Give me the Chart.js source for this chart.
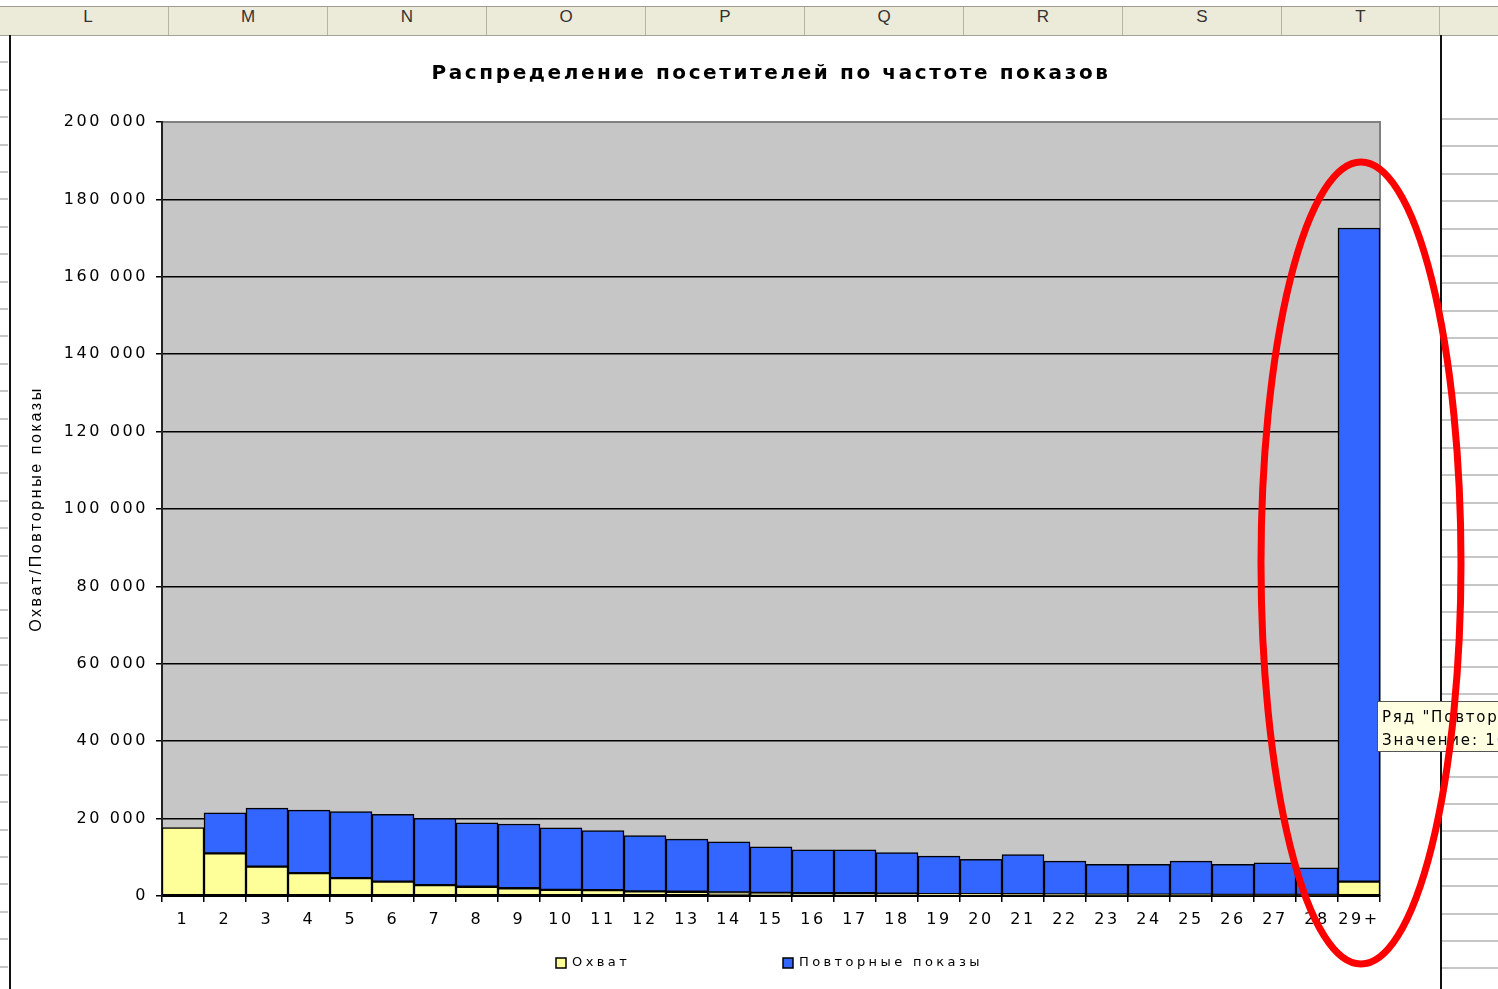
<!DOCTYPE html>
<html lang="ru">
<head>
<meta charset="utf-8">
<title>Распределение посетителей по частоте показов</title>
<script src="https://cdn.jsdelivr.net/npm/chart.js@4.4.1/dist/chart.umd.min.js"></script>
<style>
  body { margin: 0; width: 1498px; height: 989px; overflow: hidden; position: relative; background: #fff; }
  #head { position: absolute; left: 0; top: 6px; width: 1498px; height: 28px; background: #ecead9; border-top: 1px solid #9d9c92; border-bottom: 1px solid #a3a296; }
  #head div { position: absolute; top: 0; height: 28px; line-height: 29px; text-align: center; font: 17px 'Liberation Sans', sans-serif; color: #333; border-right: 1px solid #b5b3a5; box-sizing: border-box; }
  #rowsLeft { position: absolute; left: 0; top: 36px; width: 8px; height: 953px; background: repeating-linear-gradient(to bottom, transparent 0 25.4px, #c6c6c6 25.4px 27.4px); }
  #rowsRight { position: absolute; left: 1442px; top: 118px; width: 56px; height: 871px; background: repeating-linear-gradient(to bottom, #c6c6c6 0 2px, transparent 2px 27.4px); }
  #paper { position: absolute; left: 9px; top: 35px; width: 1429px; height: 960px; border-left: 2px solid #111; border-right: 2px solid #111; }
  canvas { position: absolute; left: 0; top: 0; }
</style>
</head>
<body>
<div id="head"></div>
<div id="rowsLeft"></div>
<div id="rowsRight"></div>
<div id="paper"></div>
<canvas id="myChart" width="1498" height="989"></canvas>
<script>
// sheet column headers
var columns = ['L', 'M', 'N', 'O', 'P', 'Q', 'R', 'S', 'T', ''];
var columnEdges = [8, 169, 328, 487, 646, 805, 964, 1123, 1282, 1440, 1600];

var head = document.getElementById('head');
for (var i = 0; i < columns.length; i++) {
  var cell = document.createElement('div');
  cell.style.left = columnEdges[i] + 'px';
  cell.style.width = (columnEdges[i + 1] - columnEdges[i]) + 'px';
  cell.textContent = columns[i];
  head.appendChild(cell);
}

// chart data
var labels = ['1', '2', '3', '4', '5', '6', '7', '8', '9', '10', '11', '12', '13', '14', '15',
  '16', '17', '18', '19', '20', '21', '22', '23', '24', '25', '26', '27', '28', '29+'];
var reach = [17700, 11000, 7600, 5900, 4600, 3700, 2800, 2400, 2000, 1600, 1500, 1200, 1100, 900, 800,
  700, 700, 600, 500, 500, 450, 400, 350, 350, 350, 300, 300, 300, 3700];
var repeats = [0, 10500, 15100, 16300, 17200, 17400, 17300, 16500, 16600, 16000, 15400, 14400, 13600, 13100, 11900,
  11200, 11200, 10600, 9800, 9000, 10250, 8600, 7850, 7850, 8650, 7900, 8300, 7000, 168900];
var yMax = 200000;
var yStep = 20000;

function fmt(v) {
  return String(v).replace(/\B(?=(\d{3})+(?!\d))/g, ' ');
}

// wide text like the spreadsheet chart fonts
var spacing = {
  id: 'spacing',
  beforeUpdate: function (chart) { chart.ctx.letterSpacing = '2.6px'; },
  beforeDraw: function (chart) { chart.ctx.letterSpacing = '2.6px'; }
};

var plotArea = {
  id: 'plotArea',
  beforeDraw: function (chart) {
    var ctx = chart.ctx, a = chart.chartArea;
    ctx.save();
    ctx.fillStyle = '#c6c6c6';
    ctx.fillRect(a.left, a.top, a.right - a.left, a.bottom - a.top);
    ctx.strokeStyle = '#808080';
    ctx.lineWidth = 2;
    ctx.beginPath();
    ctx.moveTo(a.left, a.top);
    ctx.lineTo(a.right, a.top);
    ctx.lineTo(a.right, a.bottom);
    ctx.stroke();
    ctx.restore();
  }
};

var legendRow = {
  id: 'legendRow',
  afterDraw: function (chart) {
    var ctx = chart.ctx, a = chart.chartArea;
    var mid = (a.left + a.right) / 2;
    var xs = [mid - 215, mid + 12];
    var y = a.bottom + 67;
    ctx.save();
    ctx.font = '13px "DejaVu Sans"';
    ctx.letterSpacing = '3.4px';
    ctx.textBaseline = 'middle';
    chart.data.datasets.forEach(function (ds, i) {
      ctx.fillStyle = ds.backgroundColor;
      ctx.fillRect(xs[i], y - 5, 10, 10);
      ctx.strokeStyle = '#000';
      ctx.lineWidth = 1.5;
      ctx.strokeRect(xs[i], y - 5, 10, 10);
      ctx.fillStyle = '#000';
      ctx.fillText(ds.label, xs[i] + 16, y);
    });
    ctx.restore();
  }
};

// hover box over the last bar
var hoverNote = {
  id: 'hoverNote',
  afterDraw: function (chart) {
    var ctx = chart.ctx;
    var last = labels.length - 1;
    var bar = chart.getDatasetMeta(1).data[last];
    var ds = chart.data.datasets[1];
    var lines = ['Ряд "' + ds.label + '" Точка "' + labels[last] + '"', 'Значение: ' + fmt(ds.data[last])];
    var x = bar.x + bar.width / 2 - 3;
    var y = 701;
    ctx.save();
    ctx.font = '15px "DejaVu Sans"';
    ctx.letterSpacing = '1.8px';
    var w = Math.max(ctx.measureText(lines[0]).width, ctx.measureText(lines[1]).width) + 12;
    ctx.fillStyle = '#ffffe1';
    ctx.fillRect(x, y, w, 51);
    ctx.strokeStyle = '#555';
    ctx.lineWidth = 1;
    ctx.strokeRect(x + 0.5, y + 0.5, w, 50);
    ctx.fillStyle = '#000';
    ctx.textBaseline = 'alphabetic';
    ctx.fillText(lines[0], x + 5, y + 21);
    ctx.fillText(lines[1], x + 5, y + 44);
    ctx.restore();
  }
};

// red hand-drawn ring around the 29+ column
var ring = {
  id: 'ring',
  afterDraw: function (chart) {
    var ctx = chart.ctx;
    var bar = chart.getDatasetMeta(1).data[labels.length - 1];
    ctx.save();
    ctx.strokeStyle = '#ff0000';
    ctx.lineWidth = 7;
    ctx.beginPath();
    ctx.ellipse(bar.x + 2, 563, 100, 401, 0, 0, Math.PI * 2);
    ctx.stroke();
    ctx.restore();
  }
};

var ctx = document.getElementById('myChart').getContext('2d');
var myChart = new Chart(ctx, {
  type: 'bar',
  data: {
    labels: labels,
    datasets: [{
      label: 'Охват',
      data: reach,
      backgroundColor: '#ffff99',
      borderColor: '#000',
      borderWidth: 1.5,
      borderSkipped: false,
      categoryPercentage: 1,
      barPercentage: 1
    }, {
      label: 'Повторные показы',
      data: repeats,
      backgroundColor: '#3366ff',
      borderColor: '#000',
      borderWidth: 1.5,
      borderSkipped: false,
      categoryPercentage: 1,
      barPercentage: 1
    }]
  },
  options: {
    responsive: false,
    animation: false,
    layout: { padding: { left: 20, right: 118, top: 0, bottom: 0 } },
    plugins: {
      legend: { display: false },
      tooltip: { enabled: false },
      title: {
        display: true,
        fullSize: false,
        text: 'Распределение посетителей по частоте показов',
        color: '#000',
        font: { family: 'DejaVu Sans', size: 20, weight: 'bold' },
        padding: { top: 62, bottom: 36 }
      }
    },
    scales: {
      x: {
        stacked: true,
        grid: { drawOnChartArea: false, tickLength: 6, color: '#000', lineWidth: 1.5 },
        border: { color: '#000', width: 2 },
        ticks: { color: '#000', font: { family: 'DejaVu Sans', size: 16 }, padding: 8, autoSkip: false, maxRotation: 0 },
        afterFit: function (s) { s.height = 93; }
      },
      y: {
        stacked: true,
        min: 0,
        max: yMax,
        grid: {
          color: function (c) { return c.tick && c.tick.value === yMax ? '#808080' : '#000'; },
          tickColor: '#000',
          lineWidth: 1.5,
          tickLength: 6
        },
        border: { color: '#222', width: 2 },
        ticks: {
          stepSize: yStep,
          color: '#000',
          font: { family: 'DejaVu Sans', size: 16 },
          padding: 8,
          callback: function (v) { return fmt(v); }
        },
        title: {
          display: true,
          text: 'Охват/Повторные показы',
          color: '#000',
          font: { family: 'Liberation Sans', size: 16 },
          padding: { top: 7, bottom: 0 }
        },
        afterFit: function (s) { s.width = 142; }
      }
    }
  },
  plugins: [spacing, plotArea, legendRow, hoverNote, ring]
});
</script>
</body>
</html>
